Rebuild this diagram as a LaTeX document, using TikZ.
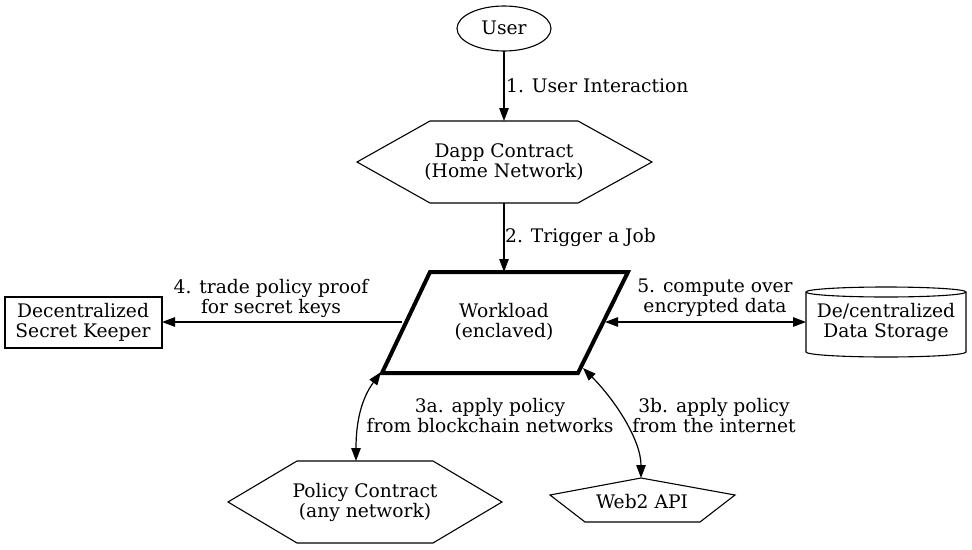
\documentclass[tikz,border=0pt]{standalone}
\usepackage{fontspec}
\setmainfont{DejaVu Serif}
\usetikzlibrary{arrows.meta}
\begin{document}
\begin{tikzpicture}[x=1pt,y=-1pt,
  txt/.style={font=\fontsize{18.67}{20}\selectfont, inner sep=0pt, align=center},
  shp/.style={draw=black, line width=1.1pt, line join=miter},
  tip/.tip={Triangle[length=13pt,width=9.5pt]},
  conn/.style={draw=black, line width=1.2pt, -tip},
  biconn/.style={draw=black, line width=1.2pt, tip-tip}]
\useasboundingbox (0,0) rectangle (972,549);

% shapes
\draw[shp] (504,28.5) ellipse [x radius=47, y radius=22.5];
\draw[shp] (357,162) -- (430,121) -- (578,121) -- (652,162) -- (578,203) -- (430,203) -- cycle;
\draw[draw=black, line width=4pt, line join=miter] (430,272) -- (628,272) -- (578,373) -- (382,373) -- cycle;
\draw[shp] (5,297) rectangle (162,348);
\draw[shp] (806,292) -- (806,352) arc[start angle=180, end angle=360, x radius=80, y radius=-5] -- (966,292);
\draw[shp] (886,292) ellipse [x radius=80, y radius=5];
\draw[shp] (228,502) -- (297,461) -- (433,461) -- (502,502) -- (433,543) -- (297,543) -- cycle;
\draw[shp] (641,478) -- (735,495) -- (700,522) -- (585,522) -- (550,495) -- cycle;

% node texts
\node[txt] (user) at (504,28) {User};
\node[txt] (dapp) at (504,162) {Dapp Contract\\(Home Network)};
\node[txt] (work) at (504,322) {Workload\\(enclaved)};
\node[txt] (keeper) at (83,322) {Decentralized\\Secret Keeper};
\node[txt] (store) at (886,322) {De/centralized\\Data Storage};
\node[txt] (policy) at (365,502) {Policy Contract\\(any network)};
\node[txt] (web) at (642,502) {Web2 API};

% connector end points on the borders
\coordinate (user-s) at (504,51);
\coordinate (dapp-n) at (504,121);
\coordinate (dapp-s) at (504,203);
\coordinate (work-n) at (504,272);
\coordinate (work-w) at (402,322);
\coordinate (work-e) at (605,322);
\coordinate (work-sw) at (381,372);
\coordinate (work-se) at (583,368);
\coordinate (keeper-e) at (162,322);
\coordinate (store-w) at (806,322);
\coordinate (policy-n) at (356,461);
\coordinate (web-n) at (641,478);

% connectors
\draw[conn] (user-s) -- (dapp-n);
\draw[conn] (dapp-s) -- (work-n);
\draw[conn] (work-w) -- (keeper-e);
\draw[biconn] (work-e) -- (store-w);
\draw[biconn] (work-sw) .. controls (362,398) and (356,420) .. (policy-n);
\draw[biconn] (work-se) .. controls (615,400) and (641,440) .. (web-n);

% labels
\node[txt, anchor=west] (l1) at (506,86) {1. User Interaction};
\node[txt, anchor=west] (l2) at (505,237) {2. Trigger a Job};
\node[txt] (l4) at (271,298) {4. trade policy proof\\for secret keys};
\node[txt] (l5) at (715,298) {5. compute over\\encrypted data};
\node[txt] (l3a) at (490,416) {3a. apply policy\\from blockchain networks};
\node[txt] (l3b) at (714,416) {3b. apply policy\\from the internet};
\end{tikzpicture}
\end{document}
